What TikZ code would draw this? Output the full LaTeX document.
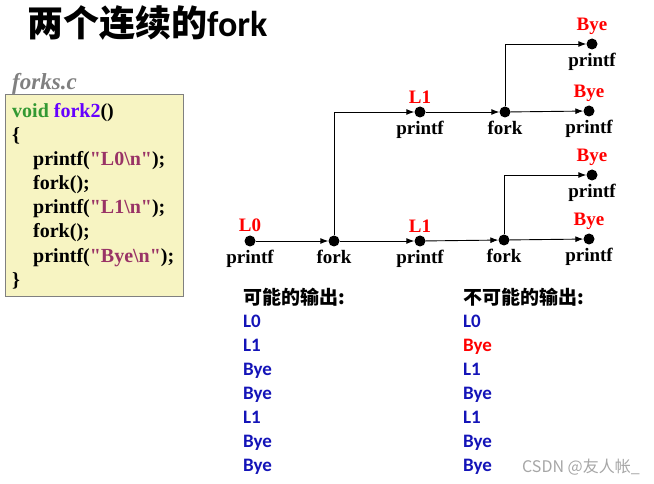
\documentclass[tikz,border=0pt]{standalone}
\usepackage{fontspec}
\setmainfont{Liberation Serif}[Ligatures=TeXOff]
\newfontfamily\cjk{Noto Sans CJK SC}
\newfontfamily\carlito{Carlito}
\usetikzlibrary{arrows.meta}

\definecolor{codegreen}{HTML}{339933}
\definecolor{codeblue}{HTML}{6600FF}
\definecolor{codestr}{HTML}{993366}
\definecolor{boxfill}{HTML}{F7F4C2}
\definecolor{outblue}{HTML}{1414B8}

\begin{document}
\begin{tikzpicture}[x = 1pt, y = -1pt,
	dot/.style = {circle, fill = black, inner sep = 0pt, minimum size = 11pt},
	flow/.style = {-{Latex[length = 8pt, width = 6pt]}, line width = 0.9pt},
	lbltop/.style = {red, font = \bfseries\fontsize{19}{19}\selectfont, inner sep = 0pt},
	lblbot/.style = {black, font = \bfseries\fontsize{19}{19}\selectfont, inner sep = 0pt},
	code/.style = {anchor = base west, inner sep = 0pt, font = \bfseries\fontsize{20}{20}\selectfont},
	outtext/.style = {anchor = base west, inner sep = 0pt, font = \carlito\bfseries\fontsize{19}{19}\selectfont},
	label distance = 3pt]
	\useasboundingbox (0,0) rectangle (654,484);

	% title
	\node[anchor = base west, inner sep = 0pt] (title) at (27,37)
		{\fontsize{36}{36}\selectfont\bfseries\cjk 两个连续的\carlito fork};

	% source code
	\node[anchor = base west, inner sep = 0pt, gray, font = \bfseries\itshape\fontsize{23}{23}\selectfont] (fname) at (12,90) {forks.c};
	\draw[fill = boxfill, draw = gray, line width = 1pt] (5,95) rectangle (183,296);
	\node[code] (c1) at (12,118) {{\color{codegreen}void} {\color{codeblue}fork2}()};
	\node[code] (c2) at (12,142) {\{};
	\node[code] (c3) at (33,166) {printf(\textcolor{codestr}{"L0\textbackslash n"});};
	\node[code] (c4) at (33,190) {fork();};
	\node[code] (c5) at (33,214) {printf(\textcolor{codestr}{"L1\textbackslash n"});};
	\node[code] (c6) at (33,238) {fork();};
	\node[code] (c7) at (33,262) {printf(\textcolor{codestr}{"Bye\textbackslash n"});};
	\node[code] (c8) at (12,286) {\}};

	% process graph
	\node[dot, label = {[lbltop]above:L0}, label = {[lblbot]below:printf}] (p0) at (250,241) {};
	\node[dot, label = {[lblbot]below:fork}] (f1) at (334,241) {};
	\node[dot, label = {[lbltop]above:L1}, label = {[lblbot]below:printf}] (p1) at (420,241) {};
	\node[dot, label = {[lblbot]below:fork}] (f2) at (504,240) {};
	\node[dot, label = {[lbltop]above:Bye}, label = {[lblbot]below:printf}] (b1) at (589,239) {};
	\node[dot, label = {[lbltop]above:Bye}, label = {[lblbot]below:printf}] (b2) at (592,175) {};
	\node[dot, label = {[lbltop]above:L1}, label = {[lblbot]below:printf}] (q1) at (420,112) {};
	\node[dot, label = {[lblbot]below:fork}] (f3) at (505,112) {};
	\node[dot, label = {[lbltop]above:Bye}, label = {[lblbot]below:printf}] (b3) at (589,111) {};
	\node[dot, label = {[lbltop]above:Bye}, label = {[lblbot]below:printf}] (b4) at (592,44) {};

	\draw[flow] (p0) -- (f1);
	\draw[flow] (f1) -- (p1);
	\draw[flow] (p1) -- (f2);
	\draw[flow] (f2) -- (b1);
	\draw[flow] (f2) |- (b2);
	\draw[flow] (f1) |- (q1);
	\draw[flow] (q1) -- (f3);
	\draw[flow] (f3) -- (b3);
	\draw[flow] (f3) |- (b4);

	% outputs
	\node[outtext] (yes) at (243,305) {\cjk 可能的输出:};
	\node[outtext, outblue] (y1) at (243,327) {L0};
	\node[outtext, outblue] (y2) at (243,351) {L1};
	\node[outtext, outblue] (y3) at (243,375) {Bye};
	\node[outtext, outblue] (y4) at (243,399) {Bye};
	\node[outtext, outblue] (y5) at (243,423) {L1};
	\node[outtext, outblue] (y6) at (243,447) {Bye};
	\node[outtext, outblue] (y7) at (243,471) {Bye};

	\node[outtext] (no) at (463,305) {\cjk 不可能的输出:};
	\node[outtext, outblue] (n1) at (463,327) {L0};
	\node[outtext, red] (n2) at (463,351) {Bye};
	\node[outtext, outblue] (n3) at (463,375) {L1};
	\node[outtext, outblue] (n4) at (463,399) {Bye};
	\node[outtext, outblue] (n5) at (463,423) {L1};
	\node[outtext, outblue] (n6) at (463,447) {Bye};
	\node[outtext, outblue] (n7) at (463,471) {Bye};

	\node[anchor = base west, inner sep = 0pt, gray!70, font = \cjk\fontsize{16}{16}\selectfont] (mark) at (522,472) {CSDN @友人帐\_};
\end{tikzpicture}
\end{document}
